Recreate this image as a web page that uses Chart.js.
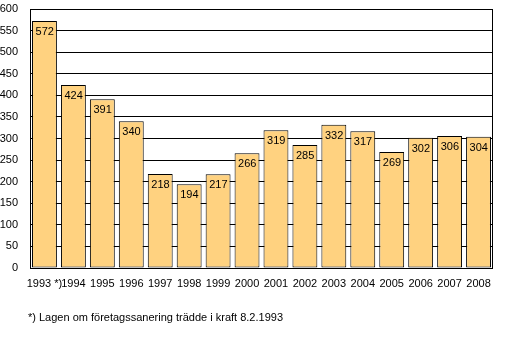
<!DOCTYPE html>
<html>
<head>
<meta charset="utf-8">
<script src="https://cdn.jsdelivr.net/npm/chart.js@4/dist/chart.umd.min.js"></script>
<style>
  body { margin: 0; background: #fff; }
  #wrap { position: relative; width: 519px; height: 353px; }
  #note { position: absolute; left: 28px; top: 311px; font: 11px "Liberation Sans", Arial, sans-serif; color: #000; }
</style>
</head>
<body>
<div id="wrap">
  <canvas id="chart" width="519" height="353"></canvas>
  <div id="note">*) Lagen om företagssanering trädde i kraft 8.2.1993</div>
</div>
<script>
// yearly counts
var years = ['1993 *)', '1994', '1995', '1996', '1997', '1998', '1999', '2000',
             '2001', '2002', '2003', '2004', '2005', '2006', '2007', '2008'];
var values = [572, 424, 391, 340, 218, 194, 217, 266, 319, 285, 332, 317, 269, 302, 306, 304];
var yTicks = [0, 50, 100, 150, 200, 250, 300, 350, 400, 450, 500, 550, 600];

var fontSpec = { family: '"Liberation Sans", Arial, sans-serif', size: 11 };

// value text in the top left corner of each bar, plus the frame around the plot
var barLabels = {
    id: 'barLabels',
    afterDatasetsDraw: function(chart) {
        var ctx = chart.ctx;
        var meta = chart.getDatasetMeta(0);
        ctx.save();
        ctx.font = '11px "Liberation Sans", Arial, sans-serif';
        ctx.fillStyle = '#000';
        ctx.textBaseline = 'middle';
        ctx.textAlign = 'left';
        meta.data.forEach(function(bar, i) {
            var left = bar.x - bar.width / 2;
            ctx.fillText(values[i], left + 3.5, bar.y + 11);
        });
        var a = chart.chartArea;
        ctx.strokeStyle = '#000';
        ctx.lineWidth = 1;
        ctx.strokeRect(Math.round(a.left) + 0.5, Math.round(a.top) + 0.5,
                       Math.round(a.right - a.left) - 1, Math.round(a.bottom - a.top));
        ctx.restore();
    }
};

var chart = new Chart(document.getElementById('chart'), {
    type: 'bar',
    data: {
        labels: years,
        datasets: [{
            data: values,
            backgroundColor: '#FFD280',
            borderColor: '#000',
            borderWidth: 1,
            borderSkipped: false,
            categoryPercentage: 1,
            barPercentage: 0.86
        }]
    },
    options: {
        responsive: false,
        animation: false,
        layout: { padding: { top: 9, right: 26, bottom: 55, left: 0 } },
        plugins: { legend: { display: false }, tooltip: { enabled: false } },
        scales: {
            x: {
                grid: { display: false },
                border: { display: false },
                ticks: { color: '#000', font: fontSpec, padding: 1, maxRotation: 0, autoSkip: false },
                afterFit: function(s) { s.height = 30; s.paddingLeft = 0; s.paddingRight = 0; }
            },
            y: {
                min: 0,
                max: 600,
                afterBuildTicks: function(s) { s.ticks = yTicks.map(function(v) { return { value: v }; }); },
                grid: { color: '#000', drawTicks: false },
                border: { display: true, color: '#000' },
                ticks: { color: '#000', font: fontSpec, padding: 12 },
                afterFit: function(s) { s.width = 30; s.paddingTop = 0; s.paddingBottom = 0; }
            }
        }
    },
    plugins: [barLabels]
});
</script>
</body>
</html>
